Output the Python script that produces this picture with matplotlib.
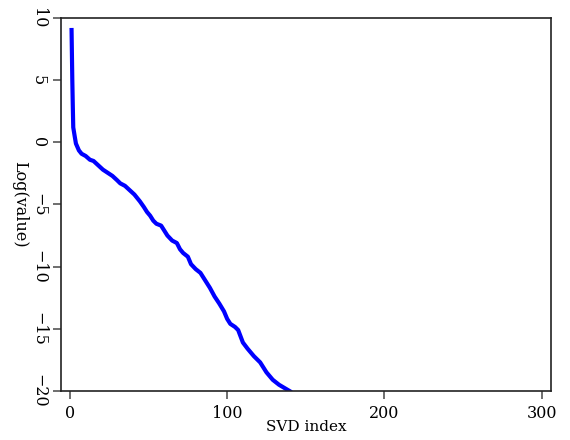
import matplotlib
matplotlib.use("Agg")
import matplotlib.pyplot as plt

# SVD spectrum values (log scale)
svd_index = [1, 1.5, 1.8, 2.1, 3, 3.8, 5.7, 7.4, 10, 12.7, 15, 18, 21, 24, 27, 30,
             32, 35, 38, 41, 44.5, 47, 49, 51, 53, 55, 58, 60, 62, 65, 68, 70,
             72, 75, 77, 80, 83, 86, 89, 92, 95, 98, 100, 102, 105, 107, 110,
             113, 117, 121, 125, 129, 133, 137, 141]
log_value = [9.2, 5.0, 3.0, 1.2, 0.5, -0.1, -0.65, -0.92, -1.1, -1.4, -1.5, -1.85,
             -2.2, -2.45, -2.7, -3.05, -3.3, -3.5, -3.85, -4.2, -4.75, -5.2, -5.6,
             -5.9, -6.3, -6.55, -6.7, -7.1, -7.5, -7.9, -8.1, -8.6, -8.9, -9.2,
             -9.8, -10.2, -10.5, -11.1, -11.7, -12.4, -12.97, -13.6, -14.2, -14.6,
             -14.85, -15.1, -16.1, -16.6, -17.2, -17.7, -18.5, -19.1, -19.5, -19.8,
             -20.1]

x_ticks = [0, 100, 200, 300]
y_ticks = [-20, -15, -10, -5, 0, 5, 10]

plt.rcParams['font.family'] = ['DejaVu Serif']
plt.rcParams['axes.unicode_minus'] = True

fig = plt.figure(figsize=(5.7, 4.4), dpi=100)
ax = fig.add_axes([0.107, 0.1114, 0.8597, 0.8477])

ax.plot(svd_index, log_value, color='#0000ff', linewidth=3, solid_capstyle='butt')

ax.set_xlim(-5.7, 306)
ax.set_ylim(-20, 10)
ax.set_xticks(x_ticks)
ax.set_yticks(y_ticks)

ax.tick_params(axis='both', direction='out', length=6, width=1.2, color='#555555',
               labelsize=11.5, pad=4)
for lbl in ax.get_yticklabels():
    lbl.set_rotation(-90)
    lbl.set_verticalalignment('center')

for s in ax.spines.values():
    s.set_linewidth(1.2)
    s.set_color('#222222')

ax.set_xlabel("SVD index", fontsize=11, labelpad=-1)
ax.set_ylabel("Log(value)", fontsize=11.5, rotation=-90, labelpad=14)

fig.savefig("out.png", dpi=100)
